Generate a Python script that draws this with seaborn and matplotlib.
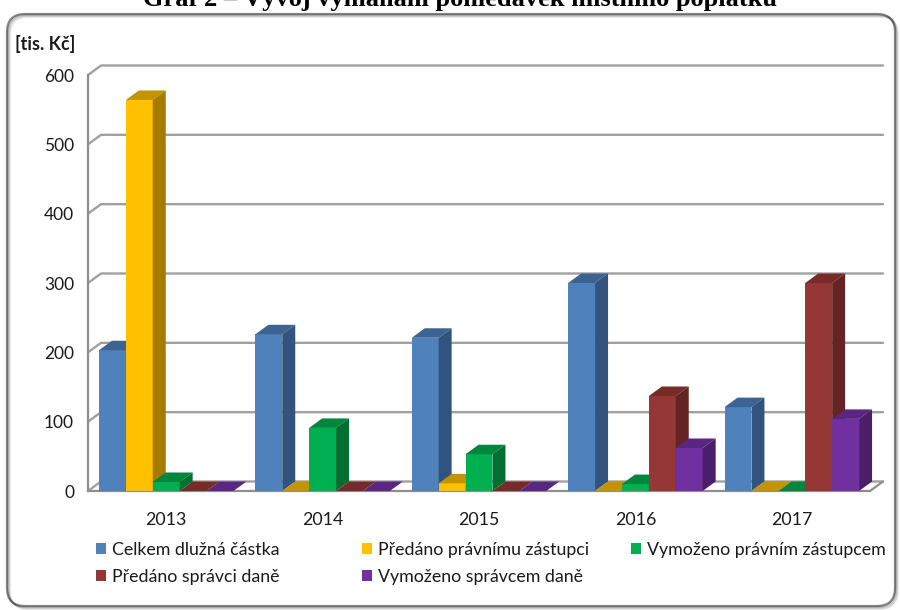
import numpy as np
import pandas as pd
import matplotlib
matplotlib.use('Agg')
import matplotlib.pyplot as plt
import seaborn as sns
from matplotlib.patches import Polygon, Patch, FancyBboxPatch
from matplotlib.lines import Line2D
from matplotlib.transforms import IdentityTransform
from matplotlib.ticker import FixedLocator

# data (tis. Kč)
years = ['2013', '2014', '2015', '2016', '2017']
series = ['Celkem dlužná částka', 'Předáno právnímu zástupci',
          'Vymoženo právním zástupcem', 'Předáno správci daně',
          'Vymoženo správcem daně']
celkem = [203, 226, 221, 300, 121]
predano_pz = [564, 0, 11, 0, 0]
vymozeno_pz = [13, 91, 53, 10, 0]
predano_sd = [0, 0, 0, 137, 300]
vymozeno_sd = [0, 0, 0, 62, 104]
yticks = [0, 100, 200, 300, 400, 500, 600]

front = ['#4F81BD', '#FFC000', '#00B050', '#953735', '#7030A0']
top = ['#3D6392', '#C49300', '#00873D', '#762B29', '#5A2682']
side = ['#32537D', '#A67B00', '#006F30', '#632423', '#4A1F6A']

df = pd.DataFrame({'rok': years * 5,
                   'serie': np.repeat(series, 5),
                   'hodnota': celkem + predano_pz + vymozeno_pz + predano_sd + vymozeno_sd})

sns.set_style('white')
plt.rcParams['font.family'] = ['Lato', 'DejaVu Sans']

W, H = 900, 610
fig = plt.figure(figsize=(W / 100, H / 100), dpi=100)
ax = fig.add_axes([88 / W, (H - 491) / H, (870 - 88) / W, (491 - 75) / H])
ax.patch.set_alpha(0)

sns.barplot(data=df, x='rok', y='hodnota', hue='serie', hue_order=series,
            order=years, palette=front, width=0.86, gap=0, saturation=1,
            legend=False, ax=ax)

ax.set_xlim(-0.5, 4.5)
ax.set_ylim(0, 600)
ax.set_yticks(yticks)
ax.set_xlabel('')
ax.set_ylabel('')

gray = '#8E8E8E'
txt = '#1a1a1a'
for s in ['top', 'right']:
    ax.spines[s].set_visible(False)
for s in ['left', 'bottom']:
    ax.spines[s].set_color(gray)
    ax.spines[s].set_linewidth(1.6)

ax.tick_params(axis='y', length=6, width=1.4, color=gray, labelsize=12.5,
               labelcolor=txt, pad=4)
ax.tick_params(axis='x', which='major', length=0, labelsize=12.8,
               labelcolor=txt, pad=15)
ax.xaxis.set_minor_locator(FixedLocator(np.arange(-0.5, 5, 1)))
ax.tick_params(axis='x', which='minor', length=6, width=1.4, color=gray)

# 3D depth (pixels)
dx, dy = 13, 9.5
ident = IdentityTransform()

# back wall grid lines with diagonal connectors to the front axis
for v in yticks:
    p = ax.transData.transform((-0.5, v))
    q = ax.transData.transform((4.5, v))
    xs = [p[0], p[0] + dx, q[0] + dx]
    ys = [p[1], p[1] + dy, q[1] + dy]
    ax.add_line(Line2D(xs, ys, color='#A0A0A0', lw=1.7, transform=ident,
                       clip_on=False, zorder=1))
p = ax.transData.transform((4.5, 0))
ax.add_line(Line2D([p[0], p[0] + dx], [p[1], p[1] + dy], color=gray, lw=1.6,
                   transform=ident, clip_on=False, zorder=1))

# top and side faces of every bar, drawn left to right
bars = []
for si, cont in enumerate(ax.containers):
    for rect in cont:
        bars.append((rect.get_x(), si, rect))
bars.sort(key=lambda b: b[0])
for k, (_, si, rect) in enumerate(bars):
    x0, y0 = rect.get_x(), rect.get_y()
    x1, y1 = x0 + rect.get_width(), y0 + rect.get_height()
    (ax0, ay0), (ax1, ay1) = ax.transData.transform([(x0, y0), (x1, y1)])
    z = 3 + k * 0.01
    rect.set_zorder(z)
    rect.set_edgecolor('none')
    topface = Polygon([(ax0, ay1), (ax1, ay1), (ax1 + dx, ay1 + dy), (ax0 + dx, ay1 + dy)],
                      closed=True, facecolor=top[si], edgecolor='none',
                      transform=ident, clip_on=False, zorder=z + 0.001)
    sideface = Polygon([(ax1, ay0), (ax1, ay1), (ax1 + dx, ay1 + dy), (ax1 + dx, ay0 + dy)],
                       closed=True, facecolor=side[si], edgecolor='none',
                       transform=ident, clip_on=False, zorder=z + 0.002)
    ax.add_patch(topface)
    ax.add_patch(sideface)

# unit label
fig.text(15 / W, (H - 44) / H, '[tis. Kč]', fontsize=13, fontweight='bold',
         color=txt, va='center', ha='left')

# title, clipped by the top edge as in the source
fig.text(460 / W, (H - 6) / H, 'Graf 2 – Vývoj vymáhání pohledávek místního poplatku',
         fontfamily='Liberation Serif', fontweight='bold', fontsize=19,
         ha='center', va='baseline', color='black')

# outer rounded frame with a soft shadow
for off, a in [(3, 0.07), (2, 0.12), (1, 0.18)]:
    sh = FancyBboxPatch((7 + off, 4 - off), 888, 592, boxstyle='round,pad=0,rounding_size=18',
                        facecolor='none', edgecolor='black', alpha=a, lw=1.6,
                        transform=ident)
    fig.patches.append(sh)
frame = FancyBboxPatch((7, 4), 888, 592, boxstyle='round,pad=0,rounding_size=18',
                       facecolor='white', edgecolor='#8A8A8A', lw=1.6,
                       transform=ident, zorder=-1)
fig.patches.append(frame)

# legend in three columns
handles = [Patch(facecolor=c, edgecolor='none') for c in front]
cols = [([0, 3], 96), ([1, 4], 362), ([2], 631)]
for idx, xpos in cols:
    fig.legend(handles=[handles[i] for i in idx], labels=[series[i] for i in idx],
               loc='upper left', bbox_to_anchor=(xpos / W, (H - 542) / H),
               frameon=False, fontsize=12.8, handlelength=0.55, handleheight=0.55,
               handletextpad=0.35, labelspacing=0.6, borderpad=0,
               borderaxespad=0, labelcolor=txt)

fig.savefig('out.png', dpi=100)
